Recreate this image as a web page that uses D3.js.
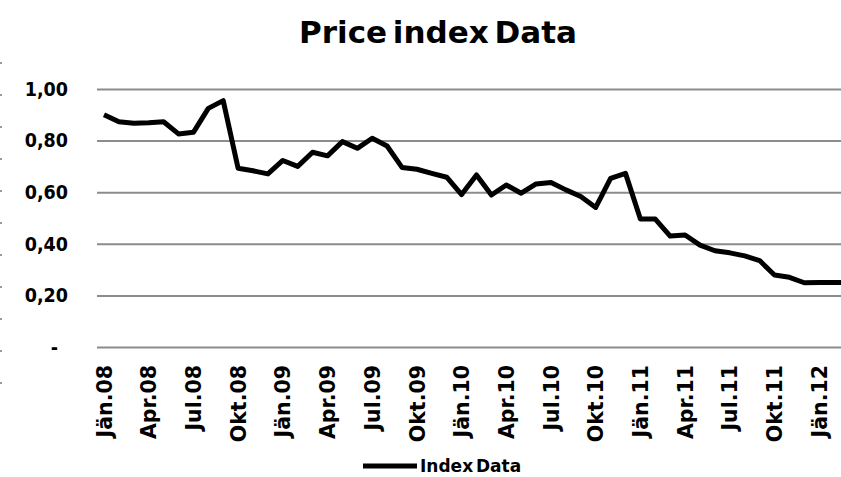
<!DOCTYPE html>
<html>
<head>
<meta charset="utf-8">
<script src="https://cdn.jsdelivr.net/npm/d3@7"></script>
<style>
  body { margin: 0; background: #fff; }
  svg { display: block; }
</style>
</head>
<body>
<div class="line-chart"></div>
<script>
// ---- Data (monthly, Jän.08 .. Mär.12)
var months = ["Jän.08","Feb.08","Mär.08","Apr.08","Mai.08","Jun.08","Jul.08","Aug.08","Sep.08","Okt.08","Nov.08","Dez.08",
              "Jän.09","Feb.09","Mär.09","Apr.09","Mai.09","Jun.09","Jul.09","Aug.09","Sep.09","Okt.09","Nov.09","Dez.09",
              "Jän.10","Feb.10","Mär.10","Apr.10","Mai.10","Jun.10","Jul.10","Aug.10","Sep.10","Okt.10","Nov.10","Dez.10",
              "Jän.11","Feb.11","Mär.11","Apr.11","Mai.11","Jun.11","Jul.11","Aug.11","Sep.11","Okt.11","Nov.11","Dez.11",
              "Jän.12","Feb.12","Mär.12"];

var indexData = [0.90, 0.873, 0.867, 0.869, 0.873, 0.826, 0.832, 0.925, 0.955, 0.693, 0.683, 0.671,
                 0.723, 0.700, 0.755, 0.741, 0.796, 0.770, 0.809, 0.779, 0.696, 0.689, 0.673, 0.658,
                 0.591, 0.667, 0.589, 0.628, 0.596, 0.632, 0.638, 0.609, 0.583, 0.541, 0.654, 0.673,
                 0.496, 0.496, 0.430, 0.434, 0.395, 0.373, 0.365, 0.353, 0.335, 0.279, 0.270, 0.249,
                 0.250, 0.250, 0.250];

var tickLabels = ["Jän.08","Apr.08","Jul.08","Okt.08","Jän.09","Apr.09","Jul.09","Okt.09",
                  "Jän.10","Apr.10","Jul.10","Okt.10","Jän.11","Apr.11","Jul.11","Okt.11","Jän.12"];

var yTicks = [0, 0.2, 0.4, 0.6, 0.8, 1.0];

// ---- Dimensions
var width = 841, height = 477;
var plotLeft = 97, plotTop = 89, plotBottom = 347;

var svg = d3.select(".line-chart")
    .append("svg")
        .attr("width", width)
        .attr("height", height);

// ---- Scales
var x = d3.scalePoint()
    .domain(months)
    .range([104, 104 + 14.9 * (months.length - 1)]);

var y = d3.scaleLinear()
    .domain([0, 1])
    .range([plotBottom, plotTop]);

// ---- Title
svg.append("text")
    .attr("x", 438)
    .attr("y", 43)
    .attr("text-anchor", "middle")
    .style("font-family", "DejaVu Sans")
    .style("font-weight", "bold")
    .style("font-size", "31px")
    .style("word-spacing", "-5px")
    .text("Price index Data");

// little grey marks on the left edge
svg.append("g")
    .selectAll("rect")
    .data(d3.range(11))
    .enter()
    .append("rect")
        .attr("x", 0)
        .attr("y", function(d) { return 62 + d * 32; })
        .attr("width", 2)
        .attr("height", 2)
        .attr("fill", "#999");

// ---- Y axis (gridlines + labels)
var yAxis = svg.append("g")
    .attr("transform", "translate(" + plotLeft + ",0)")
    .call(d3.axisLeft(y)
        .tickValues(yTicks)
        .tickSize(-(width - plotLeft))
        .tickPadding(29)
        .tickFormat(function(d) { return d === 0 ? "-" : d3.format(".2f")(d).replace(".", ","); }));

yAxis.select(".domain").remove();
yAxis.selectAll(".tick line")
    .attr("stroke", "#8c8c8c")
    .attr("stroke-width", 2);
yAxis.selectAll(".tick text")
    .attr("fill", "#000")
    .style("font-family", "DejaVu Sans Condensed")
    .style("font-weight", "bold")
    .style("font-size", "19.5px")
    .attr("dx", function(d) { return d === 0 ? -10 : 0; });

// ---- X axis labels (rotated)
var xAxis = svg.append("g")
    .attr("transform", "translate(0," + plotBottom + ")")
    .call(d3.axisBottom(x).tickValues(tickLabels).tickSize(0));

xAxis.select(".domain").remove();
xAxis.selectAll(".tick text")
    .attr("fill", "#000")
    .attr("transform", "rotate(-90)")
    .attr("x", -18)
    .attr("y", 0)
    .attr("dy", "0.35em")
    .style("text-anchor", "end")
    .style("font-family", "DejaVu Sans")
    .style("font-weight", "bold")
    .style("font-size", "20.5px");

// ---- Line
var line = d3.line()
    .x(function(d, i) { return x(months[i]); })
    .y(function(d) { return y(d); });

svg.append("path")
    .datum(indexData)
    .attr("fill", "none")
    .attr("stroke", "#000")
    .attr("stroke-width", 5)
    .attr("stroke-linejoin", "round")
    .attr("d", line);

// ---- Legend
var legend = svg.append("g")
    .attr("transform", "translate(363,466)");

legend.append("line")
    .attr("x1", 0)
    .attr("x2", 54)
    .attr("stroke", "#000")
    .attr("stroke-width", 5);

legend.append("text")
    .attr("x", 57)
    .attr("y", 6)
    .style("font-family", "DejaVu Sans")
    .style("font-weight", "bold")
    .style("font-size", "17px")
    .style("word-spacing", "-3px")
    .text("Index Data");
</script>
</body>
</html>
